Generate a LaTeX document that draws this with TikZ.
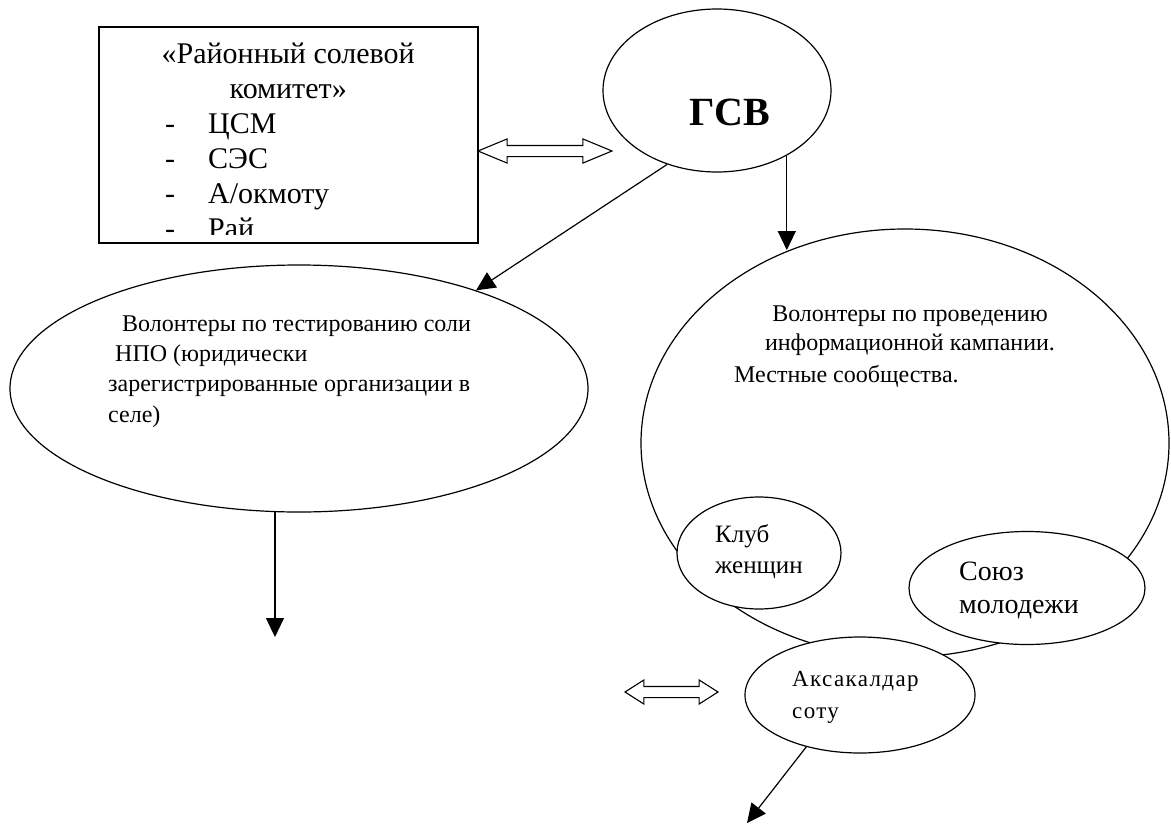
\documentclass[tikz,border=0pt]{standalone}
\usepackage{fontspec}
\setmainfont{Liberation Serif}
\usepackage{tikz}
\usetikzlibrary{arrows.meta,shapes.geometric,shapes.arrows,positioning}
\tikzset{
  komBox/.style={rectangle, draw, line width=1.3pt, inner sep=0pt},
  oval/.style={ellipse, draw, line width=1.2pt, fill=white, inner sep=0pt},
  lbl/.style={inner sep=0pt, align=left, anchor=base west},
  linkArrow/.style={-{Triangle[length=19pt,width=18pt]}, line width=1.2pt},
  hollowArrow/.style={double arrow, draw, line width=1.1pt, inner sep=0pt,
    text height=5pt, text depth=5pt, double arrow head extend=6.5pt}
}

\begin{document}
\begin{tikzpicture}[x=1pt, y=-1pt]
  \useasboundingbox (0,0) rectangle (1171,825);

  % district committee
  \node[komBox, minimum width=379pt, minimum height=216pt] (kom) at (288.5,135) {};
  \begin{scope}
    \clip (kom.north west) rectangle ([yshift=9pt]kom.south east);
    \node[lbl, font=\fontsize{30}{35}\selectfont] (komtext) at (165,238)
      {\makebox[246pt][c]{«Районный солевой}\\
       \makebox[246pt][c]{комитет»}\\
       \makebox[43pt][l]{-}ЦСМ\\
       \makebox[43pt][l]{-}СЭС\\
       \makebox[43pt][l]{-}А/окмоту\\
       \makebox[43pt][l]{-}Рай};
  \end{scope}

  \node[oval, minimum width=228pt, minimum height=163pt] (gsv) at (717,90.5) {};
  \node[inner sep=0pt, anchor=base, font=\fontsize{40}{48}\selectfont\bfseries] (gsvtext) at (730,125) {ГСВ};

  \node[hollowArrow, minimum height=134pt, double arrow tip angle=45] (komgsv) at (545,151) {};

  % salt testing volunteers
  \node[oval, minimum width=578pt, minimum height=247pt] (testvol) at (299,388.5) {};
  \node[lbl, font=\fontsize{24}{30.3}\selectfont] (testtext) at (108,422)
    {\hspace{14pt}Волонтеры по тестированию соли\\
     \hspace{7pt}НПО (юридически\\
     зарегистрированные организации в\\
     селе)};

  % information campaign
  \node[oval, minimum width=528pt, minimum height=428pt] (infvol) at (905,443) {};
  \node[inner sep=0pt, anchor=base, align=center, font=\fontsize{24}{28.3}\selectfont] (inftext) at (910,350)
    {Волонтеры по проведению\\информационной кампании.};
  \node[lbl, font=\fontsize{24}{28}\selectfont] (locals) at (734,382) {Местные сообщества.};

  \node[oval, minimum width=164pt, minimum height=112pt] (women) at (759,553) {};
  \node[lbl, font=\fontsize{25}{31}\selectfont] (womentext) at (715,573) {Клуб\\женщин};

  \node[oval, minimum width=236pt, minimum height=113pt] (youth) at (1027,588) {};
  \node[lbl, font=\fontsize{28}{33}\selectfont] (youthtext) at (959,613) {Союз\\молодежи};

  \node[oval, minimum width=230pt, minimum height=116pt] (aks) at (860,695) {};
  \node[lbl, font=\fontsize{23}{32}\selectfont\addfontfeature{LetterSpace=6}] (akstext) at (792,718) {Аксакалдар\\соту};

  \node[hollowArrow, minimum height=93pt, double arrow tip angle=65] (aksleft) at (671.5,692) {};

  \coordinate (testend) at (276,637);
  \coordinate (aksend) at (747,823);

  \draw[linkArrow] (gsv.236.3) -- (testvol.29.8);
  \draw[linkArrow] (gsv.317.3) -- (gsv.317.3 |- infvol.121.7);
  \draw[linkArrow] (testvol.259.4) -- (testvol.259.4 |- testend);
  \draw[linkArrow] (aks.224) -- (aksend);
\end{tikzpicture}
\end{document}
